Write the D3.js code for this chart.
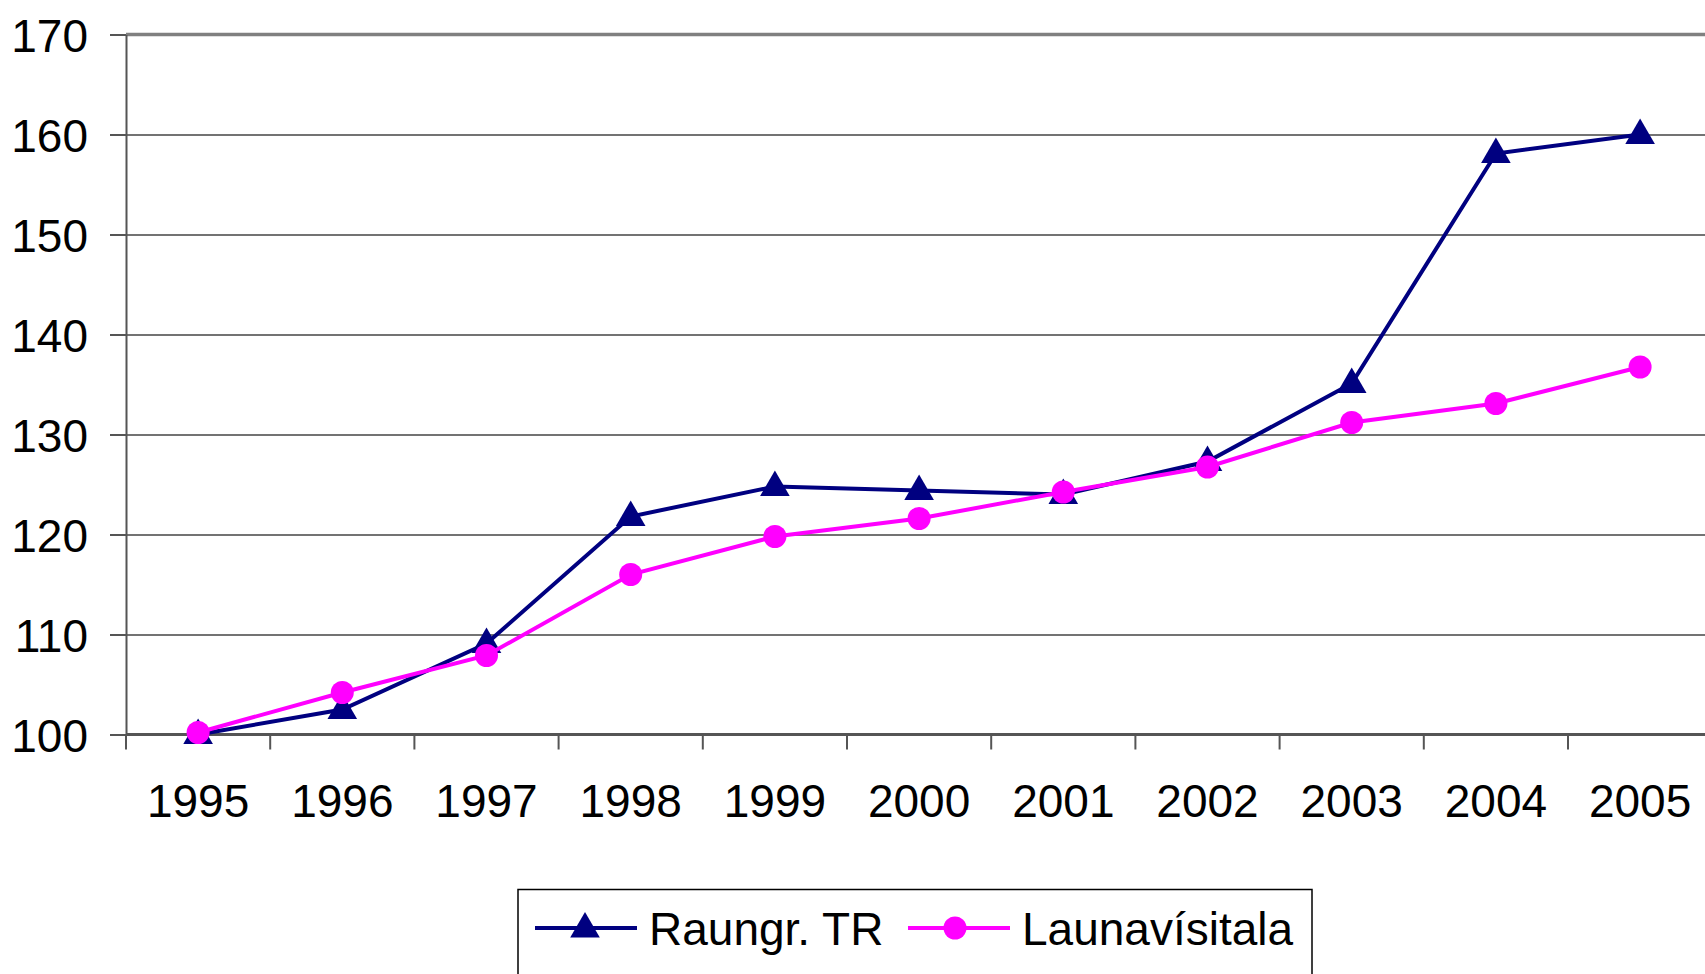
<!DOCTYPE html>
<html>
<head>
  <meta charset="utf-8">
  <title>Raungr. TR og Launavísitala</title>
  <script src="https://cdn.jsdelivr.net/npm/d3@7"></script>
  <style>
    body { margin: 0; background: #ffffff; }
    svg text { font-family: "Liberation Sans", Arial, sans-serif; fill: #000; }
    .grid line { stroke: #444444; stroke-width: 1.3; }
    .grid path { display: none; }
    .yaxis path, .yaxis line, .xticks line { stroke: #555555; stroke-width: 2; }
    .xaxis path, .xaxis line { display: none; }
  </style>
</head>
<body>
<script>
  // data
  var years = ["1995", "1996", "1997", "1998", "1999", "2000", "2001", "2002", "2003", "2004", "2005"];
  var raungr = [100, 102.5, 109.1, 121.8, 124.8, 124.4, 124.0, 127.3, 135.1, 158.1, 160.0];
  var launa = [100.2, 104.2, 107.9, 116.0, 119.8, 121.6, 124.25, 126.75, 131.2, 133.1, 136.75];
  var yTicks = [100, 110, 120, 130, 140, 150, 160, 170];
  var seriesNames = ["Raungr. TR", "Launavísitala"];

  var width = 1705, height = 974;
  var plotLeft = 126, plotTop = 34.5, plotH = 700, bandW = 144.2;
  var plotW = bandW * years.length;

  var svg = d3.select("body").append("svg")
    .attr("width", width)
    .attr("height", height);

  var x = d3.scaleBand().domain(years).range([plotLeft, plotLeft + plotW]);
  var y = d3.scaleLinear().domain([100, 170]).range([plotTop + plotH, plotTop]);

  // gridlines
  svg.append("g")
    .attr("class", "grid")
    .attr("transform", "translate(" + plotLeft + ",0)")
    .call(d3.axisLeft(y).tickValues(yTicks.slice(1)).tickSize(-plotW).tickFormat(""));

  // top border of the plot area
  svg.append("line")
    .attr("x1", plotLeft).attr("x2", plotLeft + plotW)
    .attr("y1", y(170)).attr("y2", y(170))
    .attr("stroke", "#808080").attr("stroke-width", 3.5);

  // y axis
  var yAxis = svg.append("g")
    .attr("class", "yaxis")
    .attr("transform", "translate(" + plotLeft + ",0)")
    .call(d3.axisLeft(y).tickValues(yTicks).tickSize(16).tickSizeOuter(0).tickPadding(22));
  yAxis.selectAll("text").style("font-size", "46px").attr("dy", "0.36em");

  // x baseline
  svg.append("line")
    .attr("x1", plotLeft).attr("x2", plotLeft + plotW)
    .attr("y1", y(100)).attr("y2", y(100))
    .attr("stroke", "#555555").attr("stroke-width", 3);

  // x ticks between categories
  var edges = years.map(function(d) { return x(d); }).concat([plotLeft + plotW]);
  svg.append("g").attr("class", "xticks")
    .selectAll("line").data(edges).enter().append("line")
    .attr("x1", function(d) { return d; }).attr("x2", function(d) { return d; })
    .attr("y1", y(100)).attr("y2", y(100) + 15);

  // x labels
  var xAxis = svg.append("g")
    .attr("class", "xaxis")
    .attr("transform", "translate(0," + y(100) + ")")
    .call(d3.axisBottom(x).tickSize(0).tickPadding(50));
  xAxis.selectAll("text").style("font-size", "46px");

  var line = d3.line()
    .x(function(d, i) { return x(years[i]) + x.bandwidth() / 2; })
    .y(function(d) { return y(d); });

  var tri = d3.symbol().type(d3.symbolTriangle).size(380);

  // Raungr. TR
  svg.append("path").datum(raungr)
    .attr("d", line).attr("fill", "none")
    .attr("stroke", "#000080").attr("stroke-width", 4);
  svg.selectAll(".tri").data(raungr).enter().append("path")
    .attr("class", "tri")
    .attr("d", tri)
    .attr("fill", "#000080")
    .attr("transform", function(d, i) {
      return "translate(" + (x(years[i]) + x.bandwidth() / 2) + "," + (y(d) + 1) + ")";
    });

  // Launavísitala
  svg.append("path").datum(launa)
    .attr("d", line).attr("fill", "none")
    .attr("stroke", "#ff00ff").attr("stroke-width", 4);
  svg.selectAll(".dot").data(launa).enter().append("circle")
    .attr("class", "dot")
    .attr("cx", function(d, i) { return x(years[i]) + x.bandwidth() / 2; })
    .attr("cy", function(d) { return y(d); })
    .attr("r", 11.5)
    .attr("fill", "#ff00ff");

  // legend
  var legend = svg.append("g");
  legend.append("rect")
    .attr("x", 518).attr("y", 889.5)
    .attr("width", 794).attr("height", 120)
    .attr("fill", "#fff").attr("stroke", "#000").attr("stroke-width", 1.5);

  var ly = 928;
  var items = [
    { name: seriesNames[0], color: "#000080", x0: 535, sym: "tri", tx: 649 },
    { name: seriesNames[1], color: "#ff00ff", x0: 908, sym: "dot", tx: 1022 }
  ];
  items.forEach(function(it) {
    legend.append("line")
      .attr("x1", it.x0).attr("x2", it.x0 + 102)
      .attr("y1", ly).attr("y2", ly)
      .attr("stroke", it.color).attr("stroke-width", 4);
    if (it.sym === "tri") {
      legend.append("path").attr("d", tri).attr("fill", it.color)
        .attr("transform", "translate(" + (it.x0 + 50) + "," + (ly + 1) + ")");
    } else {
      legend.append("circle").attr("cx", it.x0 + 47).attr("cy", ly)
        .attr("r", 11.5).attr("fill", it.color);
    }
    legend.append("text")
      .attr("x", it.tx).attr("y", ly)
      .attr("dy", "0.36em")
      .style("font-size", "46px")
      .text(it.name);
  });
</script>
</body>
</html>
